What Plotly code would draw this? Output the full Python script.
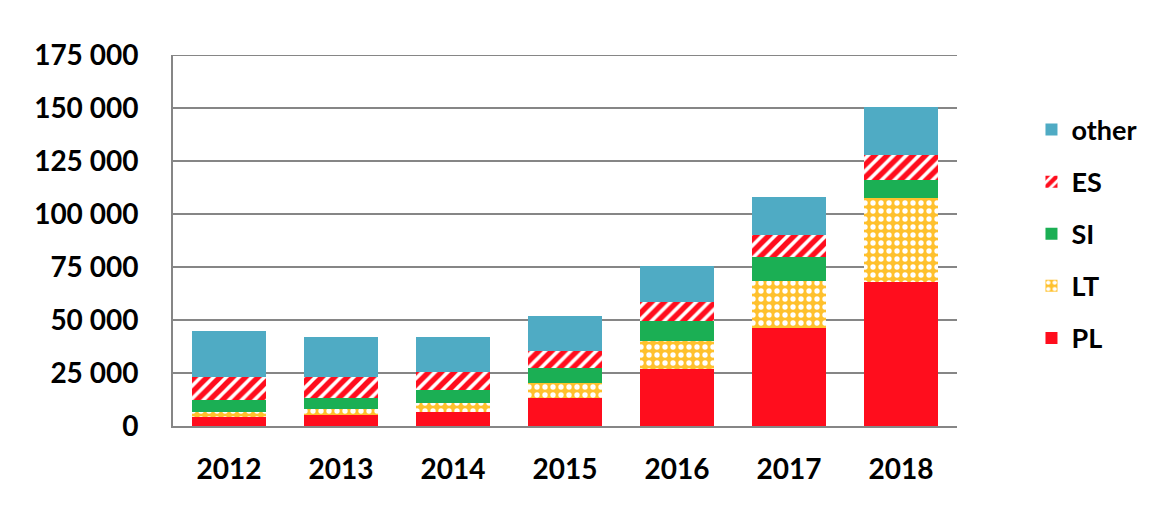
import plotly.graph_objects as go

years = ["2012", "2013", "2014", "2015", "2016", "2017", "2018"]
pl = [4400, 5000, 6700, 13400, 26900, 46400, 68100]
lt = [2200, 2900, 4300, 6700, 13300, 22100, 39600]
si = [5700, 5100, 6000, 7100, 9300, 11400, 8500]
es = [10700, 10000, 8300, 8200, 8800, 10300, 11600]
other = [21800, 19100, 16500, 16500, 17300, 17700, 22800]

y_tickvals = [0, 25000, 50000, 75000, 100000, 125000, 150000, 175000]
y_ticktext = ["0", "25 000", "50 000", "75 000", "100 000", "125 000", "150 000", "175 000"]
y_max = 175000

FONT = "Lato"
AXFONT = dict(family=FONT, size=28, color="black", weight="bold")

fig = go.Figure()
fig.add_trace(go.Bar(name="PL", x=years, y=pl, legendgroup="PL", legendrank=5,
                     marker=dict(color="#FF0D1D", line=dict(width=0))))
fig.add_trace(go.Bar(name="LT", x=years, y=lt, legendgroup="LT", legendrank=4,
                     marker=dict(color="#FFC12D", line=dict(width=0),
                                 pattern=dict(shape=".", fgcolor="white", bgcolor="#FFC12D",
                                              fgopacity=1, size=8, solidity=0.35))))
fig.add_trace(go.Bar(name="SI", x=years, y=si, legendgroup="SI", legendrank=3,
                     marker=dict(color="#1BAF54", line=dict(width=0))))
fig.add_trace(go.Bar(name="ES", x=years, y=es, legendgroup="ES", legendrank=2,
                     marker=dict(color="white", line=dict(width=0),
                                 pattern=dict(shape="/", fgcolor="#FF0D1D", bgcolor="white",
                                              fgopacity=1, size=9, solidity=0.6))))
fig.add_trace(go.Bar(name="other", x=years, y=other, legendgroup="other", legendrank=1,
                     marker=dict(color="#4FABC4", line=dict(width=0))))

fig.update_layout(
    width=1154, height=515,
    barmode="stack", bargap=0.348,
    paper_bgcolor="white", plot_bgcolor="white",
    margin=dict(l=165, r=205, t=47, b=97),
    font=dict(family=FONT, size=26, color="black", weight="bold"),
    showlegend=True,
    legend=dict(traceorder="grouped", x=1.095, xanchor="left", y=0.5175, yanchor="middle",
                font=dict(family=FONT, size=27, color="black", weight="bold"),
                tracegroupgap=14, bgcolor="rgba(0,0,0,0)"),
    shapes=[dict(type="line", xref="paper", yref="y", x0=0, x1=1, y0=y_max, y1=y_max,
                 line=dict(color="#868686", width=2), layer="below")],
)
fig.update_yaxes(range=[0, y_max], tickvals=y_tickvals, ticktext=y_ticktext,
                 showgrid=True, gridcolor="#868686", gridwidth=2,
                 showline=True, linecolor="#868686", linewidth=2,
                 zeroline=False, ticks="", ticklabelstandoff=27, tickfont=AXFONT)
fig.update_xaxes(showline=True, linecolor="#868686", linewidth=2, ticks="",
                 ticklabelstandoff=17, tickfont=AXFONT)

fig.write_html("out.html")
